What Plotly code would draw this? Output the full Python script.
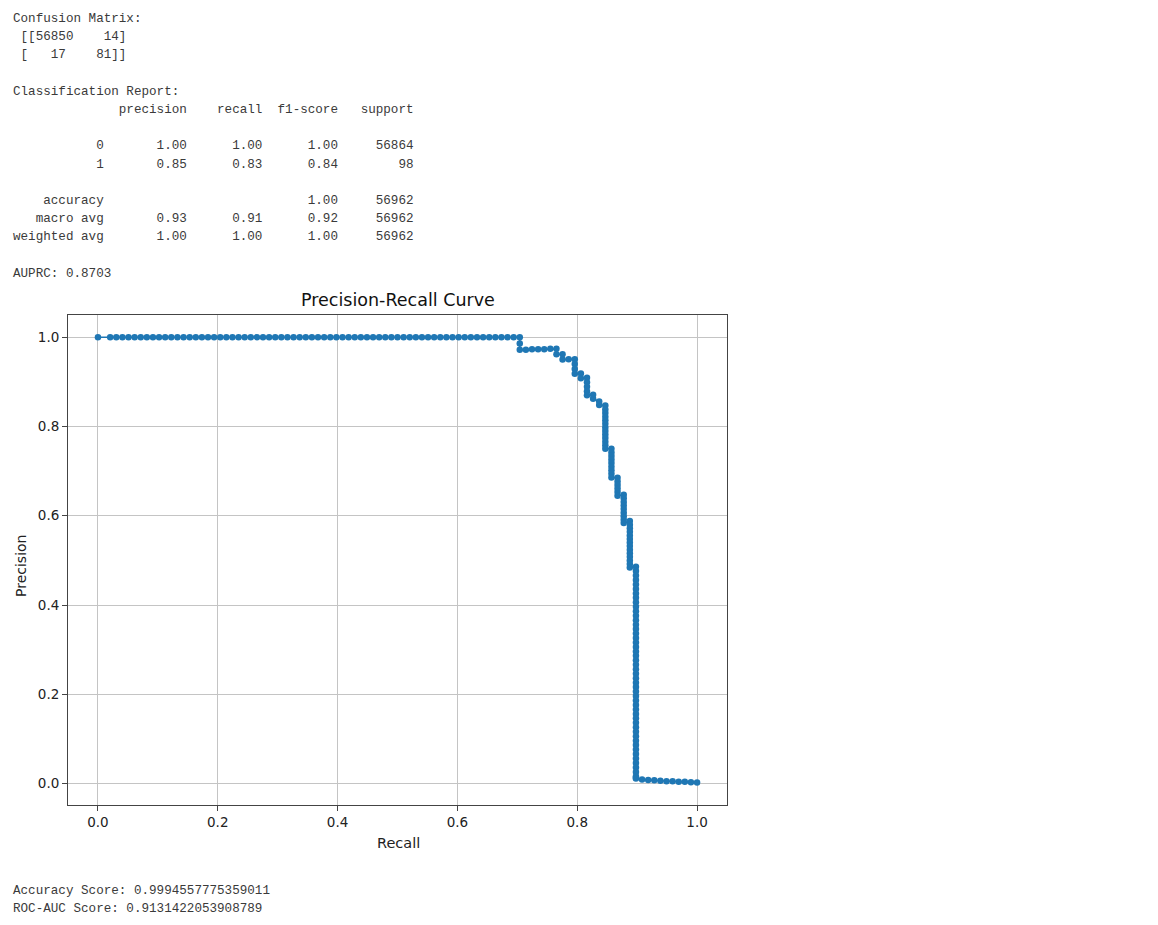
import plotly.graph_objects as go

# ---------------- data ----------------
top_recall = [0.0, 0.0204, 0.0306, 0.0408, 0.0510, 0.0612, 0.0714, 0.0816, 0.0918, 0.1020,
              0.1122, 0.1224, 0.1327, 0.1429, 0.1531, 0.1633, 0.1735, 0.1837, 0.1939, 0.2041,
              0.2143, 0.2245, 0.2347, 0.2449, 0.2551, 0.2653, 0.2755, 0.2857, 0.2959, 0.3061,
              0.3163, 0.3265, 0.3367, 0.3469, 0.3571, 0.3673, 0.3776, 0.3878, 0.3980, 0.4082,
              0.4184, 0.4286, 0.4388, 0.4490, 0.4592, 0.4694, 0.4796, 0.4898, 0.5000, 0.5102,
              0.5204, 0.5306, 0.5408, 0.5510, 0.5612, 0.5714, 0.5816, 0.5918, 0.6020, 0.6122,
              0.6224, 0.6327, 0.6429, 0.6531, 0.6633, 0.6735, 0.6837, 0.6939, 0.7041]
top_precision = [1.0, 1.0, 1.0, 1.0, 1.0, 1.0, 1.0, 1.0, 1.0, 1.0,
                 1.0, 1.0, 1.0, 1.0, 1.0, 1.0, 1.0, 1.0, 1.0, 1.0,
                 1.0, 1.0, 1.0, 1.0, 1.0, 1.0, 1.0, 1.0, 1.0, 1.0,
                 1.0, 1.0, 1.0, 1.0, 1.0, 1.0, 1.0, 1.0, 1.0, 1.0,
                 1.0, 1.0, 1.0, 1.0, 1.0, 1.0, 1.0, 1.0, 1.0, 1.0,
                 1.0, 1.0, 1.0, 1.0, 1.0, 1.0, 1.0, 1.0, 1.0, 1.0,
                 1.0, 1.0, 1.0, 1.0, 1.0, 1.0, 1.0, 1.0, 1.0]

mid_recall = [0.7041, 0.7041, 0.7143, 0.7245, 0.7347, 0.7449, 0.7551, 0.7653,
              0.7653, 0.7755, 0.7755, 0.7857, 0.7959,
              0.7959, 0.7959, 0.7959, 0.8061, 0.8061, 0.8163, 0.8163, 0.8163, 0.8163, 0.8163,
              0.8265, 0.8265, 0.8367, 0.8367, 0.8469]
mid_precision = [0.986, 0.972, 0.972, 0.973, 0.973, 0.973, 0.974, 0.974,
                 0.962, 0.962, 0.950, 0.951, 0.951,
                 0.940, 0.929, 0.918, 0.919, 0.908, 0.909, 0.899, 0.889, 0.879, 0.870,
                 0.871, 0.862, 0.856, 0.848, 0.847]

# vertical runs: recall level -> precision values along the drop
drop_recall = [0.8469, 0.8571, 0.8673, 0.8776, 0.8878, 0.8980]
drop_precision = [
    [0.838, 0.830, 0.822, 0.814, 0.806, 0.798, 0.790, 0.782, 0.774, 0.766, 0.758, 0.750],
    [0.750, 0.742, 0.734, 0.726, 0.718, 0.710, 0.702, 0.694, 0.686],
    [0.685, 0.677, 0.669, 0.661, 0.653, 0.645],
    [0.647, 0.639, 0.631, 0.623, 0.615, 0.607, 0.599, 0.591, 0.584],
    [0.588, 0.580, 0.572, 0.564, 0.556, 0.548, 0.540, 0.532, 0.524, 0.516, 0.508, 0.500,
     0.492, 0.484],
    [0.486, 0.476, 0.466, 0.456, 0.446, 0.436, 0.426, 0.416, 0.406, 0.396, 0.386, 0.376,
     0.366, 0.356, 0.346, 0.336, 0.326, 0.316, 0.306, 0.296, 0.286, 0.276, 0.266, 0.256,
     0.246, 0.236, 0.226, 0.216, 0.206, 0.196, 0.186, 0.176, 0.166, 0.156, 0.146, 0.136,
     0.126, 0.116, 0.106, 0.096, 0.086, 0.076, 0.066, 0.056, 0.046, 0.036, 0.026, 0.016,
     0.013, 0.011],
]

tail_recall = [0.9082, 0.9184, 0.9286, 0.9388, 0.9490, 0.9592, 0.9694, 0.9796, 0.9898, 1.0]
tail_precision = [0.009, 0.008, 0.007, 0.006, 0.005, 0.005, 0.004, 0.004, 0.003, 0.002]

x_ticks = [0.0, 0.2, 0.4, 0.6, 0.8, 1.0]
y_ticks = [0.0, 0.2, 0.4, 0.6, 0.8, 1.0]

header_lines = [
    "Confusion Matrix:",
    " [[56850    14]",
    " [   17    81]]",
    "",
    "Classification Report:",
    "              precision    recall  f1-score   support",
    "",
    "           0       1.00      1.00      1.00     56864",
    "           1       0.85      0.83      0.84        98",
    "",
    "    accuracy                           1.00     56962",
    "   macro avg       0.93      0.91      0.92     56962",
    "weighted avg       1.00      1.00      1.00     56962",
    "",
    "AUPRC: 0.8703",
]
footer_lines = [
    "Accuracy Score: 0.9994557775359011",
    "ROC-AUC Score: 0.9131422053908789",
]

# ---------------- build curve ----------------
rec = list(top_recall) + list(mid_recall)
prec = list(top_precision) + list(mid_precision)
for r, plist in zip(drop_recall, drop_precision):
    for p in plist:
        rec.append(r)
        prec.append(p)
rec += tail_recall
prec += tail_precision

# ---------------- geometry (page pixels; page body has an 8px offset) ----------------
OFF = 8
FW, FH = 1158 - 2 * OFF, 925 - 2 * OFF
L, R, T, B = 68 - OFF, 727 - OFF, 315 - OFF, 805 - OFF
W, H = R - L, B - T


def pxx(x):
    return (x - OFF - L) / W


def pxy(y):
    return (B - (y - OFF)) / H


fig = go.Figure()
fig.add_trace(go.Scatter(
    x=rec, y=prec, mode="lines+markers",
    line=dict(color="#1f77b4", width=1.6),
    marker=dict(color="#1f77b4", size=6.5, line=dict(width=0)),
    showlegend=False, hoverinfo="x+y",
))

axis_common = dict(
    showline=True, mirror=True, linecolor="#444", linewidth=1,
    showgrid=True, gridcolor="#c4c4c4", gridwidth=1,
    ticks="outside", ticklen=5, tickcolor="#444", tickwidth=1,
    tickfont=dict(family="DejaVu Sans", size=13.5, color="#222"),
    zeroline=False, tickformat=".1f",
)
fig.update_xaxes(range=[-0.05, 1.05], tickvals=x_ticks, **axis_common)
fig.update_yaxes(range=[-0.0482, 1.0499], tickvals=y_ticks, **axis_common)

mono = dict(family="Liberation Mono", size=12.6, color="#3a3a3a")
ann = []
for i, line in enumerate(header_lines):
    if not line:
        continue
    ann.append(dict(x=pxx(11), y=pxy(19 + 18.2 * i), xref="paper", yref="paper",
                    text=line.replace(" ", "\u00a0"), showarrow=False,
                    xanchor="left", yanchor="middle", font=mono))
for i, line in enumerate(footer_lines):
    ann.append(dict(x=pxx(11), y=pxy(891 + 18.2 * i), xref="paper", yref="paper",
                    text=line.replace(" ", "\u00a0"), showarrow=False,
                    xanchor="left", yanchor="middle", font=mono))

ann.append(dict(x=pxx(398), y=pxy(300), xref="paper", yref="paper",
                text="Precision-Recall Curve", showarrow=False,
                xanchor="center", yanchor="middle",
                font=dict(family="DejaVu Sans", size=17.5, color="#111")))
ann.append(dict(x=pxx(398), y=pxy(843), xref="paper", yref="paper",
                text="Recall", showarrow=False, xanchor="center", yanchor="middle",
                font=dict(family="DejaVu Sans", size=14.5, color="#222")))
ann.append(dict(x=pxx(21), y=pxy(566), xref="paper", yref="paper",
                text="Precision", showarrow=False, xanchor="center", yanchor="middle",
                textangle=-90,
                font=dict(family="DejaVu Sans", size=14, color="#222")))

fig.update_layout(
    width=FW, height=FH,
    margin=dict(l=L, r=FW - R, t=T, b=FH - B),
    paper_bgcolor="white", plot_bgcolor="white",
    annotations=ann,
)

fig.write_html("out.html")
